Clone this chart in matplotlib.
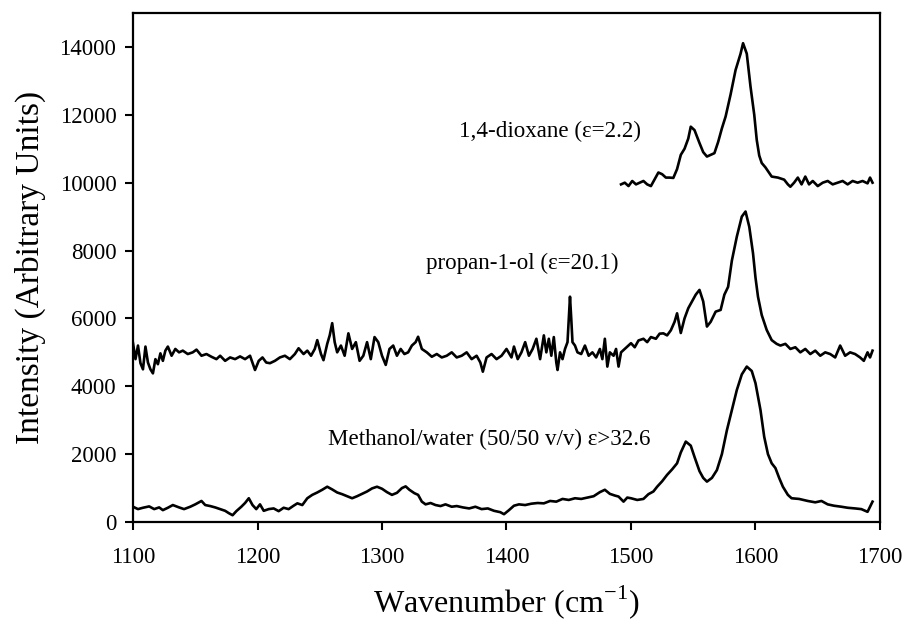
import matplotlib
matplotlib.use("Agg")
import matplotlib.pyplot as plt

# Fonts - Times-like serif
plt.rcParams['font.family'] = ['Liberation Serif', 'DejaVu Serif']
plt.rcParams['mathtext.fontset'] = 'custom'
plt.rcParams['mathtext.rm'] = 'Liberation Serif'

# Methanol/water (50/50 v/v) spectrum
methX = [1100, 1104, 1108, 1113, 1117, 1121, 1124, 1128, 1132, 1137, 1141, 1146, 1150, 1155, 1158,
         1162, 1166, 1170, 1174, 1177, 1180, 1183, 1187, 1190, 1193, 1196, 1199, 1202, 1205, 1209,
         1213, 1217, 1221, 1225, 1229, 1232, 1236, 1240, 1244, 1248, 1252, 1256, 1260, 1264, 1268,
         1272, 1276, 1280, 1284, 1288, 1292, 1296, 1300, 1304, 1308, 1312, 1316, 1319, 1322, 1326,
         1329, 1332, 1335, 1339, 1343, 1347, 1351, 1356, 1360, 1365, 1370, 1375, 1380, 1385, 1390,
         1395, 1398, 1402, 1406, 1410, 1415, 1420, 1425, 1430, 1435, 1440, 1445, 1450, 1455, 1460,
         1465, 1470, 1475, 1479, 1483, 1487, 1490, 1494, 1497, 1500, 1505, 1510, 1514, 1518, 1521,
         1525, 1529, 1533, 1537, 1540, 1544, 1548, 1551, 1555, 1558, 1561, 1565, 1569, 1573, 1577,
         1581, 1585, 1589, 1593, 1597, 1600, 1604, 1607, 1610, 1613, 1616, 1619, 1622, 1626, 1629,
         1635, 1642, 1648, 1653, 1658, 1663, 1669, 1674, 1680, 1685, 1690, 1694]
methY = [450, 380, 420, 460, 380, 430, 350, 420, 500, 430, 380, 450, 520, 620, 500,
         470, 430, 380, 330, 260, 200, 320, 450, 560, 700, 500, 380, 520, 330, 380,
         400, 320, 420, 380, 480, 550, 500, 700, 800, 870, 950, 1040, 960, 870, 820,
         760, 700, 760, 830, 900, 990, 1040, 980, 880, 800, 860, 1000, 1050, 950, 850,
         800, 600, 520, 560, 500, 470, 520, 450, 470, 430, 400, 450, 380, 400, 330,
         290, 230, 350, 480, 520, 500, 540, 560, 550, 620, 600, 680, 650, 700, 680,
         720, 760, 880, 950, 830, 780, 750, 600, 720, 700, 650, 680, 820, 900, 1040,
         1200, 1390, 1550, 1730, 2050, 2370, 2250, 1920, 1500, 1300, 1190, 1300, 1530, 2000, 2700,
         3300, 3890, 4350, 4580, 4450, 4090, 3300, 2510, 2000, 1730, 1590, 1300, 1040, 800, 700,
         680, 620, 580, 620, 520, 480, 450, 420, 400, 380, 300, 600]

# propan-1-ol spectrum
propX = [1100, 1102, 1104, 1106, 1108, 1110, 1112, 1114, 1116, 1118, 1120, 1122, 1124, 1126, 1128,
         1131, 1134, 1137, 1140, 1144, 1148, 1151, 1155, 1159, 1163, 1167, 1170, 1174, 1178, 1182,
         1186, 1190, 1194, 1198, 1201, 1204, 1207, 1210, 1214, 1218, 1222, 1226, 1230, 1233, 1237,
         1240, 1243, 1246, 1248, 1251, 1253, 1256, 1258, 1260, 1262, 1264, 1267, 1270, 1273, 1276,
         1279, 1282, 1285, 1288, 1291, 1294, 1297, 1300, 1303, 1306, 1309, 1312, 1315, 1318, 1321,
         1324, 1327, 1329, 1332, 1336, 1340, 1344, 1348, 1352, 1356, 1360, 1364, 1368, 1372, 1376,
         1379, 1381, 1384, 1388, 1392, 1396, 1400, 1404, 1406, 1409, 1412, 1415, 1418, 1421, 1424,
         1427, 1430, 1432, 1434, 1436, 1438, 1440, 1441, 1443, 1445, 1447, 1449, 1450, 1451, 1452,
         1453, 1455, 1457, 1460, 1463, 1466, 1469, 1472, 1475, 1477, 1479, 1481, 1483, 1486, 1488,
         1490, 1492, 1495, 1498, 1500, 1503, 1506, 1510, 1513, 1516, 1520, 1523, 1526, 1529, 1532,
         1535, 1537, 1540, 1543, 1546, 1549, 1552, 1555, 1558, 1561, 1564, 1568, 1572, 1575, 1578,
         1581, 1585, 1589, 1592, 1595, 1598, 1600, 1602, 1605, 1609, 1613, 1617, 1620, 1624, 1628,
         1632, 1636, 1640, 1644, 1648, 1652, 1656, 1660, 1664, 1668, 1672, 1676, 1680, 1684, 1687,
         1690, 1692, 1694]
propY = [5270, 4800, 5200, 4680, 4500, 5170, 4700, 4500, 4380, 4800, 4650, 4970, 4750, 5050, 5170,
         4900, 5100, 5000, 5050, 4950, 5000, 5080, 4900, 4950, 4870, 4800, 4900, 4750, 4850, 4800,
         4880, 4800, 4900, 4480, 4750, 4850, 4700, 4680, 4750, 4850, 4900, 4800, 4950, 5120, 4950,
         5050, 4900, 5100, 5360, 4950, 4770, 5250, 5500, 5860, 5300, 5000, 5200, 4900, 5560, 5100,
         5300, 4750, 4900, 5300, 4800, 5450, 5300, 4900, 4630, 5100, 5200, 4900, 5100, 4950, 5000,
         5200, 5300, 5460, 5100, 5000, 4870, 4950, 4850, 4900, 5000, 4850, 4900, 5000, 4800, 4900,
         4700, 4430, 4850, 4950, 4800, 4900, 5100, 4850, 5170, 4800, 5000, 5300, 4900, 5100, 5400,
         4800, 5500, 5000, 5400, 4900, 5450, 4700, 4480, 5000, 4800, 5100, 5300, 6000, 6640, 6000,
         5300, 5200, 5000, 4950, 5200, 4900, 5000, 4850, 5100, 4800, 5400, 4580, 5000, 4900, 5100,
         4580, 5000, 5100, 5200, 5270, 5150, 5350, 5400, 5300, 5450, 5400, 5550, 5560, 5500, 5650,
         5900, 6150, 5570, 6000, 6300, 6500, 6700, 6840, 6500, 5760, 5900, 6200, 6250, 6700, 6930,
         7700, 8410, 9000, 9150, 8700, 7920, 7200, 6640, 6100, 5660, 5360, 5250, 5200, 5250, 5100,
         5150, 5000, 5100, 4950, 5050, 4900, 5000, 4950, 4850, 5200, 4900, 5000, 4950, 4850, 4750,
         5000, 4850, 5050]

# 1,4-dioxane spectrum
dioxX = [1492, 1495, 1498, 1501, 1504, 1507, 1510, 1513, 1516, 1519, 1522, 1525, 1528, 1531, 1534,
         1537, 1540, 1543, 1546, 1548, 1551, 1555, 1558, 1561, 1564, 1567, 1570, 1573, 1576, 1580,
         1584, 1588, 1590, 1593, 1596, 1599, 1601, 1603, 1605, 1608, 1613, 1618, 1623, 1626, 1628,
         1631, 1634, 1637, 1640, 1643, 1646, 1650, 1654, 1658, 1662, 1666, 1670, 1674, 1678, 1682,
         1686, 1690, 1692, 1694]
dioxY = [9950, 10000, 9900, 10050, 9950, 10000, 10050, 9950, 9900, 10100, 10300, 10250, 10150, 10150, 10140,
         10400, 10820, 11000, 11300, 11650, 11550, 11170, 10900, 10770, 10820, 10870, 11200, 11600, 11950, 12600,
         13320, 13800, 14110, 13800, 12830, 12000, 11260, 10800, 10580, 10450, 10180, 10150, 10090, 9950, 9880,
         10000, 10150, 9950, 10180, 9950, 10050, 9900, 10000, 10050, 9950, 10000, 10050, 9950, 10050, 10000,
         10050, 9980, 10150, 10000]

# Figure
fig = plt.figure(figsize=(9.06, 6.29), dpi=100)
ax = fig.add_axes([0.1468, 0.1701, 0.8245, 0.8092])

ax.plot(methX, methY, color='black', linewidth=1.9)
ax.plot(propX, propY, color='black', linewidth=1.9)
ax.plot(dioxX, dioxY, color='black', linewidth=1.9)

# Labels on curves
ax.text(1508, 11500, "1,4-dioxane (\u03b5=2.2)", fontsize=16.6, ha='right', va='center')
ax.text(1490, 7630, "propan-1-ol (\u03b5=20.1)", fontsize=16.6, ha='right', va='center')
ax.text(1516, 2420, "Methanol/water (50/50 v/v) \u03b5>32.6", fontsize=16.6, ha='right', va='center')

ax.set_xlim(1100, 1700)
ax.set_ylim(0, 15000)
ax.set_xticks([1100, 1200, 1300, 1400, 1500, 1600, 1700])
ax.set_yticks([0, 2000, 4000, 6000, 8000, 10000, 12000, 14000])

ax.set_xlabel("Wavenumber (cm$^{\\mathregular{-1}}$)", fontsize=23, labelpad=11)
ax.set_ylabel("Intensity (Arbitrary Units)", fontsize=24, labelpad=10)

ax.tick_params(axis='both', direction='out', length=6, width=1.5, labelsize=16.5)
ax.tick_params(axis='x', pad=12)
ax.tick_params(axis='y', pad=6)
for s in ax.spines.values():
    s.set_linewidth(1.6)

fig.savefig("out.png", dpi=100)
